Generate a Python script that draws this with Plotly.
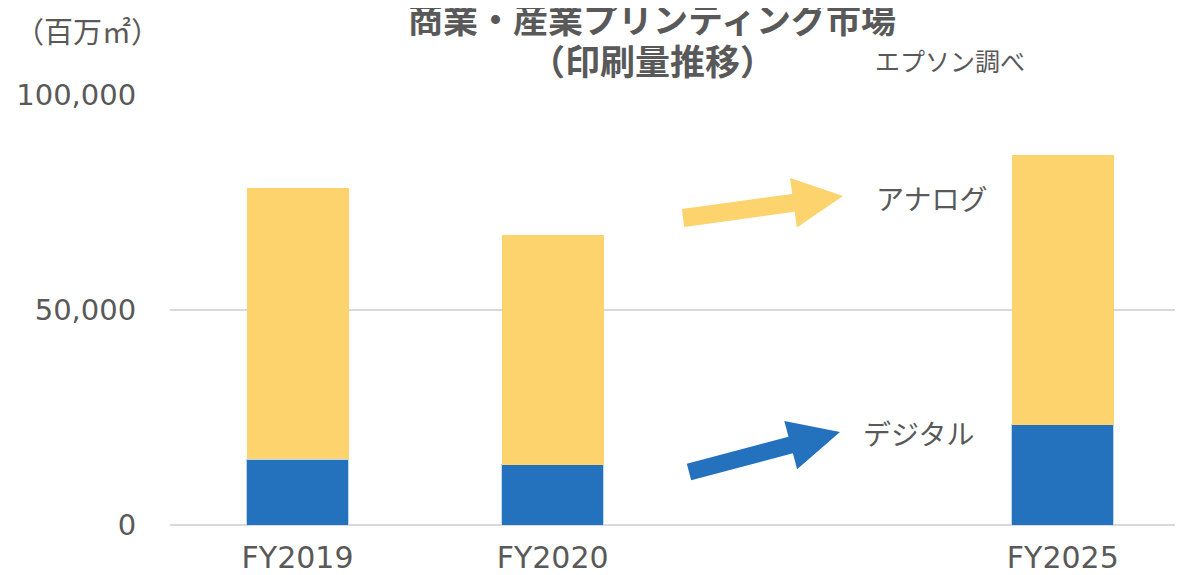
import math
import plotly.graph_objects as go

# ---- data ----
categories = ["FY2019", "FY2020", " ", "FY2025"]
digital = [15300, 14000, None, 23300]
analog = [63100, 53400, None, 62700]   # stacked on top of digital (totals ~78.4k, 67.4k, 86.0k)
y_ticks = [0, 50000, 100000]
y_tick_labels = ["0", "50,000", "100,000"]

BLUE = "#2471BD"
YELLOW = "#FCD36C"
GRAY = "#595959"
FONT = "DejaVu Sans, Noto Sans CJK JP"
JFONT = "Noto Sans CJK JP"

OFF = 8                      # page body margin of the browser
W, H = 1183 - 2 * OFF, 575 - OFF
PL, PT, PB, PR = 170, 95, 525, 1175   # plot area on screen
L, T = PL - OFF, PT - OFF
B = H + OFF - PB
R = W + OFF - PR


def paper(px, py):
    return (px - PL) / (PR - PL), (PB - py) / (PB - PT)


def arrow_path(tail, tip, w, head_len, head_w):
    dx, dy = tip[0] - tail[0], tip[1] - tail[1]
    n = math.hypot(dx, dy)
    ux, uy = dx / n, dy / n
    nx, ny = -uy, ux
    bx, by = tip[0] - ux * head_len, tip[1] - uy * head_len
    pts = [
        (tail[0] + nx * w, tail[1] + ny * w),
        (bx + nx * w, by + ny * w),
        (bx + nx * head_w, by + ny * head_w),
        tip,
        (bx - nx * head_w, by - ny * head_w),
        (bx - nx * w, by - ny * w),
        (tail[0] - nx * w, tail[1] - ny * w),
    ]
    pp = [paper(x, y) for x, y in pts]
    return "M " + " L ".join(f"{x:.5f},{y:.5f}" for x, y in pp) + " Z"


fig = go.Figure()
fig.add_trace(go.Bar(x=categories, y=digital, marker=dict(color=BLUE, line=dict(color="#BDD7EE", width=1)),
                     width=0.4, name="デジタル", showlegend=False))
fig.add_trace(go.Bar(x=categories, y=analog, marker=dict(color=YELLOW, line=dict(width=0)),
                     width=0.4, name="アナログ", showlegend=False))

shapes = [
    dict(type="path", xref="paper", yref="paper", path=arrow_path((683, 218), (843, 196), 9, 50, 25),
         fillcolor=YELLOW, line=dict(width=0)),
    dict(type="path", xref="paper", yref="paper", path=arrow_path((689, 472), (840, 432), 8.5, 51, 25),
         fillcolor=BLUE, line=dict(width=0)),
]


def ann(text, px, py, size, bold=False, xanchor="center"):
    x, y = paper(px, py)
    return dict(text=f"<b>{text}</b>" if bold else text, x=x, y=y, xref="paper", yref="paper",
                showarrow=False, xanchor=xanchor, yanchor="middle",
                font=dict(family=JFONT, size=size, color=GRAY))


annotations = [
    ann("商業・産業プリンティング市場", 652, 17, 35, bold=True),
    ann("（印刷量推移）", 652, 59, 35, bold=True),
    ann("（百万㎡）", 87, 30, 29),
    ann("エプソン調べ", 950, 60, 25),
    ann("アナログ", 931, 198, 28),
    ann("デジタル", 918, 433, 28),
]

fig.update_layout(
    width=W, height=H, barmode="stack",
    margin=dict(l=L, r=R, t=T, b=B, autoexpand=False),
    paper_bgcolor="white", plot_bgcolor="white",
    shapes=shapes, annotations=annotations,
    xaxis=dict(type="category", categoryorder="array", categoryarray=categories,
               range=[-0.5, 3.44], showgrid=False, showline=False, zeroline=False,
               ticks="outside", ticklen=6, tickcolor="rgba(0,0,0,0)",
               tickfont=dict(family=FONT, size=30, color=GRAY)),
    yaxis=dict(range=[0, 100000], tickvals=y_ticks, ticktext=y_tick_labels,
               showgrid=True, gridcolor="#D9D9D9", gridwidth=1.5,
               zeroline=True, zerolinecolor="#D9D9D9", zerolinewidth=1.5, showline=False,
               ticks="outside", ticklen=27, tickcolor="rgba(0,0,0,0)",
               tickfont=dict(family=FONT, size=29, color=GRAY)),
)

fig.write_html("out.html")
